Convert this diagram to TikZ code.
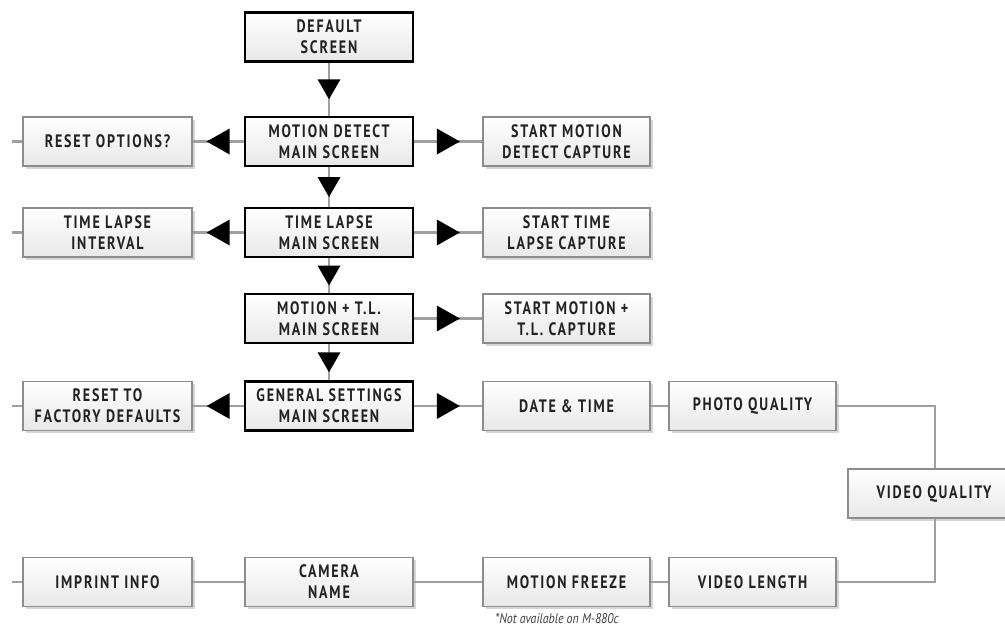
\documentclass[tikz,border=0pt]{standalone}
\usepackage{fontspec}
\newfontfamily\boxfont{PT Sans}[FakeStretch=0.78,LetterSpace=10]
\newfontfamily\notefont{PT Sans}[FakeStretch=0.85]
\usetikzlibrary{shadows,decorations.markings,calc}
\definecolor{linegray}{HTML}{A0A0A0}
\definecolor{bordergray}{HTML}{8C8C8C}
\definecolor{txtcol}{HTML}{222222}
\begin{document}
\begin{tikzpicture}[x=0.75pt,y=-0.75pt,
  basebox/.style={line width=1pt,top color=white,bottom color=black!9,
    minimum height=36.75pt,inner sep=0pt,align=center,text=txtcol,
    font=\boxfont\bfseries\fontsize{13.5}{15.75}\selectfont},
  box/.style={basebox,draw=bordergray,
    drop shadow={shadow xshift=2.2pt,shadow yshift=-2.2pt,fill=black!16,opacity=1}},
  mainbox/.style={basebox,draw=black,line width=2pt},
  colA/.style={minimum width=126.75pt},
  colB/.style={minimum width=126pt},
  colC/.style={minimum width=125.25pt},
  colD/.style={minimum width=125.25pt},
  colE/.style={minimum width=129pt},
  conn/.style={draw=linegray,line width=1.6pt},
  harrow/.style={conn,postaction={decorate},decoration={markings,
    mark=at position 0.5 with {\fill[black] (-11.5,-13) -- (11.5,0) -- (-11.5,13) -- cycle;}}},
  varrow/.style={conn,postaction={decorate},decoration={markings,
    mark=at position 0.5 with {\fill[black] (-10,-11.5) -- (10,0) -- (-10,11.5) -- cycle;}}},
  note/.style={font=\notefont\itshape\fontsize{10.5}{12}\selectfont,text=black!75,inner sep=0pt}
]
\path[use as bounding box,clip] (0,0) rectangle (1005,628);

% main column
\node[mainbox,colB] (def) at (329,37) {DEFAULT\\SCREEN};
\node[mainbox,colB] (md) at (329,141.5) {MOTION DETECT\\MAIN SCREEN};
\node[mainbox,colB] (tl) at (329,232.5) {TIME LAPSE\\MAIN SCREEN};
\node[mainbox,colB] (mtl) at (329,318.5) {MOTION + T.L.\\MAIN SCREEN};
\node[mainbox,colB] (gs) at (329,406) {GENERAL SETTINGS\\MAIN SCREEN};

% left column
\node[box,colA] (ro) at (107.5,141.5) {RESET OPTIONS?};
\node[box,colA] (tli) at (107.5,232.5) {TIME LAPSE\\INTERVAL};
\node[box,colA] (rf) at (107.5,406) {RESET TO\\FACTORY DEFAULTS};
\node[box,colA] (imp) at (107.5,582) {IMPRINT INFO};

% right columns
\node[box,colC] (smd) at (566.5,141.5) {START MOTION\\DETECT CAPTURE};
\node[box,colC] (stl) at (566.5,232.5) {START TIME\\LAPSE CAPTURE};
\node[box,colC] (smtl) at (566.5,318.5) {START MOTION +\\T.L. CAPTURE};
\node[box,colC] (dt) at (566.5,406) {DATE \& TIME};
\node[box,colD] (pq) at (752.5,406) {PHOTO QUALITY};
\node[box,colE] (vq) at (934,493.5) {VIDEO QUALITY};
\node[box,colD] (vl) at (752.5,582) {VIDEO LENGTH};
\node[box,colC] (mf) at (566.5,582) {MOTION FREEZE};
\node[box,colB] (cn) at (329,582) {CAMERA\\NAME};

\node[note] (fn) at (557,619) {*Not available on M-880c};

% stubs and bend points
\coordinate (s1) at (12,141.5);
\coordinate (s2) at (12,232.5);
\coordinate (s4) at (12,406);
\coordinate (s5) at (12,582);
\coordinate (vx) at (935,0);

% connectors
\draw[varrow] (def.south) -- (md.north);
\draw[varrow] (md.south) -- (tl.north);
\draw[varrow] (tl.south) -- (mtl.north);
\draw[varrow] (mtl.south) -- (gs.north);

\draw[harrow] (md.west) -- (ro.east);
\draw[harrow] (md.east) -- (smd.west);
\draw[harrow] (tl.west) -- (tli.east);
\draw[harrow] (tl.east) -- (stl.west);
\draw[harrow] (mtl.east) -- (smtl.west);
\draw[harrow] (gs.west) -- (rf.east);
\draw[harrow] (gs.east) -- (dt.west);

\draw[conn] (dt.east) -- (pq.west);
\draw[conn] (pq.east) -| (vx |- vq.north);
\draw[conn] (vx |- vq.south) |- (vl.east);
\draw[conn] (vl.west) -- (mf.east);
\draw[conn] (mf.west) -- (cn.east);
\draw[conn] (cn.west) -- (imp.east);

\draw[conn] (ro.west) -- (s1);
\draw[conn] (tli.west) -- (s2);
\draw[conn] (rf.west) -- (s4);
\draw[conn] (imp.west) -- (s5);
\end{tikzpicture}
\end{document}
